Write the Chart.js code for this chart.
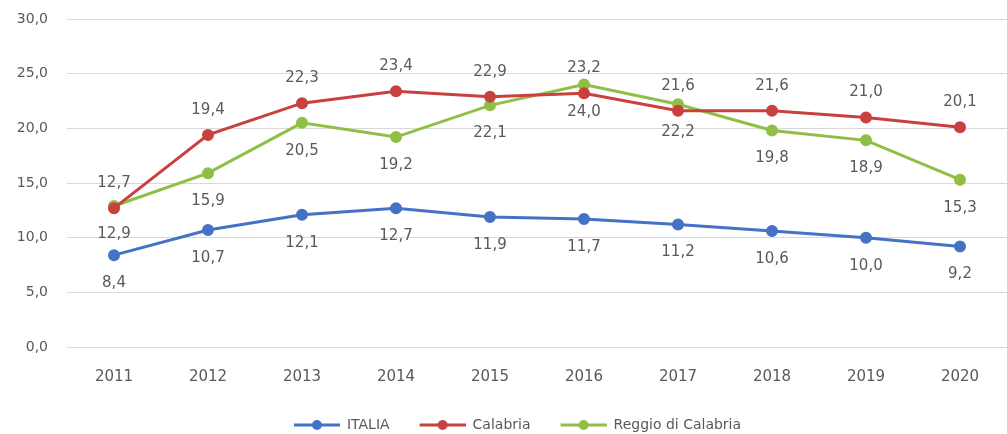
<!DOCTYPE html>
<html>
<head>
<meta charset="utf-8">
<script src="https://cdn.jsdelivr.net/npm/chart.js"></script>
<style>
  html, body { margin: 0; padding: 0; background: #fff; }
  #wrap { width: 1007px; height: 434px; }
</style>
</head>
<body>
<div id="wrap"><canvas id="chart"></canvas></div>
<script>
const years = ['2011', '2012', '2013', '2014', '2015', '2016', '2017', '2018', '2019', '2020'];
const italia = [8.4, 10.7, 12.1, 12.7, 11.9, 11.7, 11.2, 10.6, 10.0, 9.2];
const calabria = [12.7, 19.4, 22.3, 23.4, 22.9, 23.2, 21.6, 21.6, 21.0, 20.1];
const reggio = [12.9, 15.9, 20.5, 19.2, 22.1, 24.0, 22.2, 19.8, 18.9, 15.3];

const BLUE = '#4472C4';
const RED = '#C9413F';
const GREEN = '#8FBF45';
const TEXT = '#595959';

const fmt = v => v.toFixed(1).replace('.', ',');

// legend marker: line with a dot in the middle, empty space on the left
function marker(color) {
  const c = document.createElement('canvas');
  c.width = 74; c.height = 14;
  const g = c.getContext('2d');
  g.strokeStyle = color;
  g.lineWidth = 3;
  g.beginPath(); g.moveTo(28, 7); g.lineTo(74, 7); g.stroke();
  g.fillStyle = color;
  g.beginPath(); g.arc(51, 7, 5, 0, Math.PI * 2); g.fill();
  return c;
}

// value labels, above or below each point
const valueLabels = {
  id: 'valueLabels',
  afterDatasetsDraw(chart) {
    const ctx = chart.ctx;
    ctx.save();
    ctx.font = '15px "DejaVu Sans"';
    ctx.fillStyle = TEXT;
    ctx.textAlign = 'center';
    ctx.textBaseline = 'middle';
    chart.data.datasets.forEach((ds, i) => {
      const meta = chart.getDatasetMeta(i);
      meta.data.forEach((pt, j) => {
        ctx.fillText(fmt(ds.data[j]), pt.x, pt.y + ds.labelOffset);
      });
    });
    ctx.restore();
  }
};

function series(label, data, color, offset) {
  return {
    label: label,
    data: data,
    borderColor: color,
    backgroundColor: color,
    pointBackgroundColor: color,
    pointBorderColor: color,
    borderWidth: 3,
    pointRadius: 4.5,
    pointHoverRadius: 4.5,
    pointStyle: 'circle',
    tension: 0,
    labelOffset: offset,
    legendMarker: marker(color)
  };
}

const config = {
  type: 'line',
  data: {
    labels: years,
    datasets: [
      series('ITALIA', italia, BLUE, 28),
      series('Calabria', calabria, RED, -25),
      series('Reggio di Calabria', reggio, GREEN, 28)
    ]
  },
  options: {
    responsive: true,
    maintainAspectRatio: false,
    animation: false,
    layout: { autoPadding: false, padding: { top: 19, left: 0, right: 0, bottom: -8 } },
    plugins: {
      tooltip: { enabled: false },
      legend: {
        position: 'bottom',
        labels: {
          usePointStyle: true,
          pointStyleWidth: 74,
          padding: 2,
          color: TEXT,
          font: { family: 'DejaVu Sans', size: 14 },
          generateLabels(chart) {
            return chart.data.datasets.map((ds, i) => ({
              text: ds.label,
              pointStyle: ds.legendMarker,
              fillStyle: ds.borderColor,
              strokeStyle: ds.borderColor,
              lineWidth: 0,
              fontColor: TEXT,
              hidden: false,
              datasetIndex: i
            }));
          }
        }
      }
    },
    scales: {
      x: {
        offset: true,
        grid: { display: false, drawTicks: false },
        border: { display: false },
        ticks: {
          padding: 21,
          color: TEXT,
          font: { family: 'DejaVu Sans', size: 15 }
        },
        afterFit(scale) { scale.height = 69; }
      },
      y: {
        min: 0,
        max: 30,
        grid: { color: '#D9D9D9', lineWidth: 1, drawTicks: false },
        border: { display: false },
        ticks: {
          stepSize: 5,
          padding: 19,
          color: TEXT,
          font: { family: 'DejaVu Sans', size: 14 },
          callback: v => fmt(v)
        },
        afterFit(scale) {
          scale.width = 67;
          scale.paddingTop = 8;
          scale.paddingBottom = 0;
        }
      }
    }
  },
  plugins: [valueLabels]
};

const chart = new Chart(document.getElementById('chart'), config);
</script>
</body>
</html>
